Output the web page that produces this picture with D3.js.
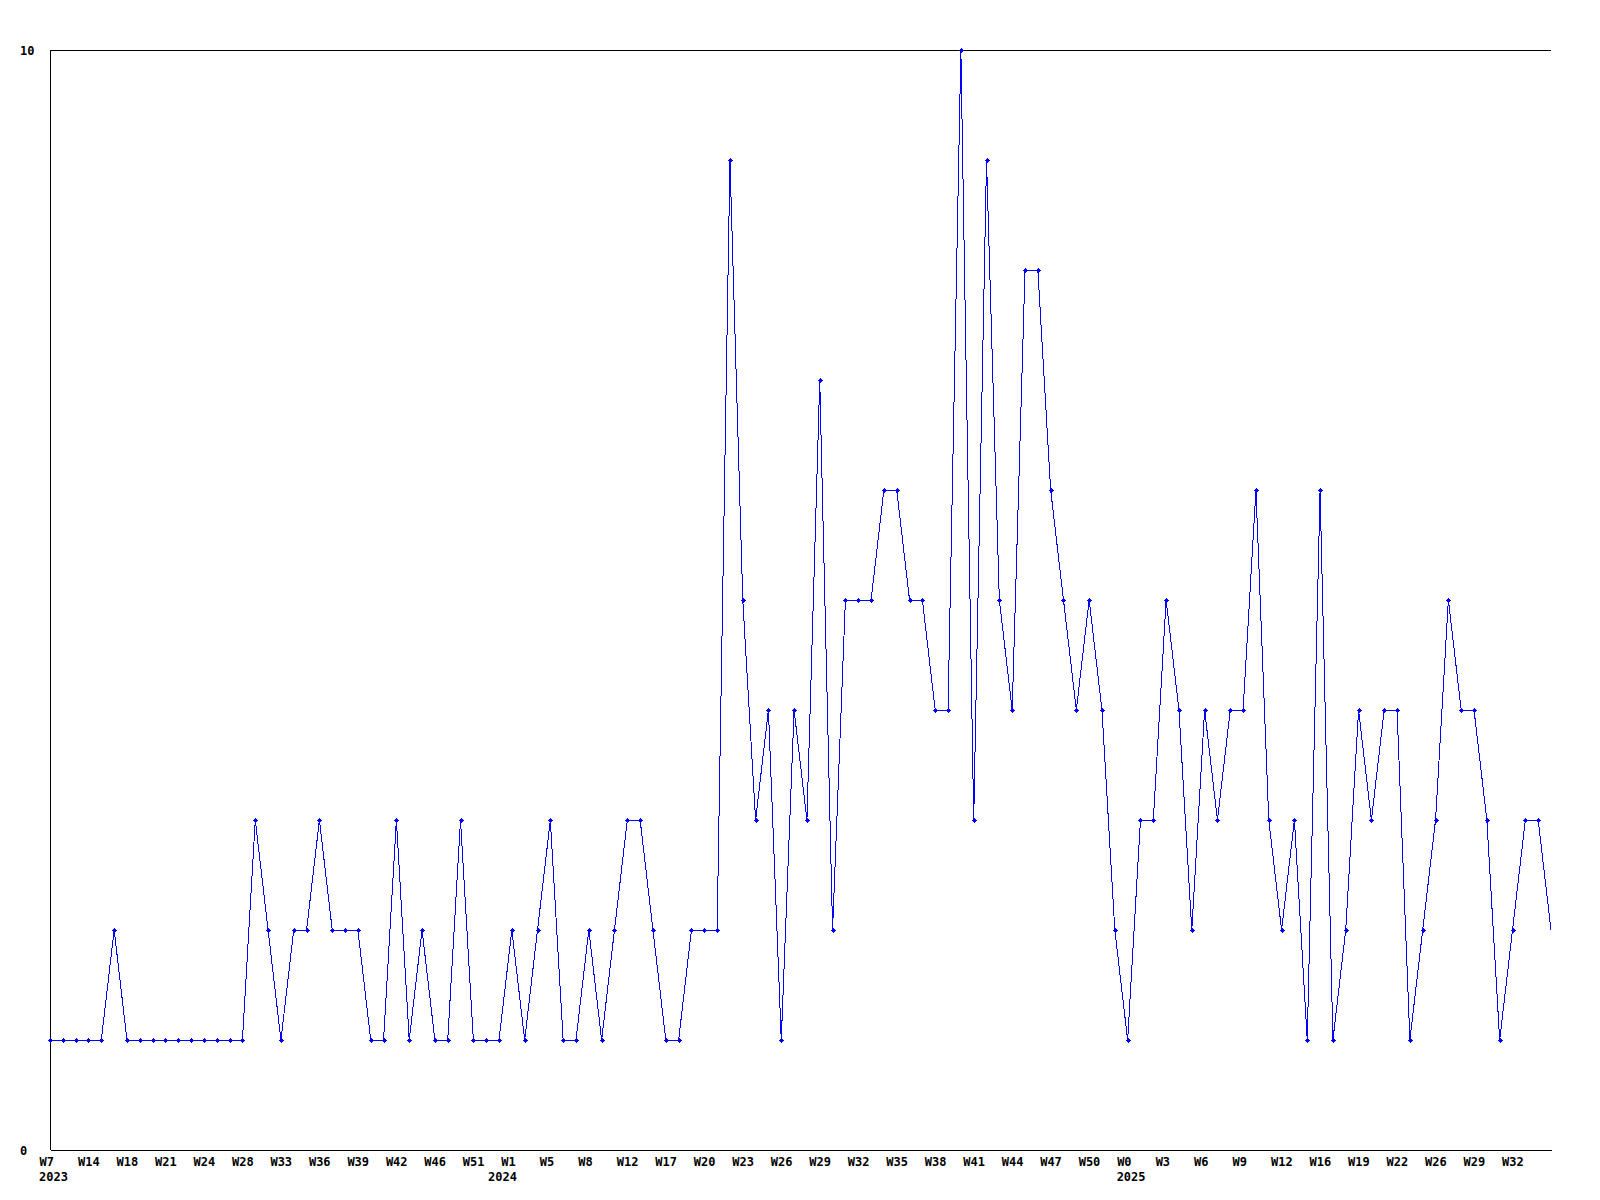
<!DOCTYPE html>
<html>
<head>
<meta charset="utf-8">
<script src="https://cdn.jsdelivr.net/npm/d3@7"></script>
<style>
  html, body { margin: 0; padding: 0; background: #ffffff; }
  svg { display: block; }
  text { font-family: "DejaVu Sans Mono", "Liberation Mono", monospace; font-weight: bold; font-size: 12px; fill: #000; }
</style>
</head>
<body>
<svg id="chart" width="1600" height="1200"></svg>
<script>
// ---- data ----
const values = [
  1,1,1,1,1,2,1,1,1,1,
  1,1,1,1,1,1,3,2,1,2,
  2,3,2,2,2,1,1,3,1,2,
  1,1,3,1,1,1,2,1,2,3,
  1,1,2,1,2,3,3,2,1,1,
  2,2,2,9,5,3,4,1,4,3,
  7,2,5,5,5,6,6,5,5,4,
  4,10,3,9,5,4,8,8,6,5,
  4,5,4,2,1,3,3,5,4,2,
  4,3,4,4,6,3,2,3,1,6,
  1,2,4,3,4,4,1,2,3,5,
  4,4,3,1,2,3,3,2
];
const weekTickLabels = [
  "W7","W14","W18","W21","W24","W28","W33","W36","W39","W42","W46","W51","W1",
  "W5","W8","W12","W17","W20","W23","W26","W29","W32","W35","W38","W41","W44","W47",
  "W50","W0","W3","W6","W9","W12","W16","W19","W22","W26","W29","W32"
];
const tickEvery = 3;
const yearLabels = ["2023","2024","2025"];
const yearIndex = [0, 35, 84];
const yTickValues = [0, 10];

// ---- layout ----
const mLeft = 50, mRight = 1551, mTop = 50, mBottom = 1150;

const svg = d3.select("#chart");

const x = d3.scaleLinear().domain([0, values.length - 1]).range([mLeft, mRight]);
const y = d3.scaleLinear().domain([0, 10]).range([mBottom, mTop]);

// frame lines (left, top)
svg.append("line").attr("x1", mLeft + 0.5).attr("x2", mLeft + 0.5).attr("y1", mTop).attr("y2", mBottom)
  .attr("stroke", "#000").attr("stroke-width", 1).attr("shape-rendering", "crispEdges");
svg.append("line").attr("x1", mLeft).attr("x2", mRight).attr("y1", mTop + 0.5).attr("y2", mTop + 0.5)
  .attr("stroke", "#000").attr("stroke-width", 1).attr("shape-rendering", "crispEdges");

// x axis
const xTickVals = weekTickLabels.map((d, i) => i * tickEvery);
const xAxis = d3.axisBottom(x)
  .tickValues(xTickVals)
  .tickSize(0)
  .tickPadding(0)
  .tickSizeOuter(0)
  .tickFormat((d, i) => weekTickLabels[i]);
const gx = svg.append("g").attr("transform", `translate(0,${mBottom})`).call(xAxis);
gx.select(".domain").attr("stroke", "#000").attr("shape-rendering", "crispEdges");
gx.selectAll(".tick text")
  .attr("text-anchor", "start")
  .attr("x", -11)
  .attr("y", 7)
  .attr("dy", "0.71em")
  .style("font-family", "DejaVu Sans Mono, monospace")
  .style("font-weight", "bold")
  .style("font-size", "12px")
  .attr("fill", "#000");

// year labels
svg.append("g").selectAll("text")
  .data(yearLabels)
  .join("text")
  .attr("x", (d, i) => x(yearIndex[i]) - 11)
  .attr("y", mBottom + 22)
  .attr("dy", "0.71em")
  .attr("text-anchor", "start")
  .text(d => d);

// y axis labels
const yAxis = d3.axisLeft(y).tickValues(yTickValues).tickSize(0).tickPadding(0).tickFormat(d3.format("d"));
const gy = svg.append("g").attr("transform", `translate(${mLeft},0)`).call(yAxis);
gy.select(".domain").remove();
gy.selectAll(".tick text")
  .attr("text-anchor", "start")
  .attr("x", 20 - mLeft)
  .attr("dy", "0.35em")
  .style("font-family", "DejaVu Sans Mono, monospace")
  .style("font-weight", "bold")
  .style("font-size", "12px")
  .attr("fill", "#000");

// clip for markers
svg.append("defs").append("clipPath").attr("id", "plotclip")
  .append("rect").attr("x", mLeft - 4).attr("y", mTop - 4).attr("width", mRight - mLeft).attr("height", mBottom - mTop + 8);

// line
const line = d3.line().x((d, i) => x(i)).y(d => y(d));
svg.append("path")
  .datum(values)
  .attr("d", line)
  .attr("fill", "none")
  .attr("stroke", "#0000ff")
  .attr("stroke-width", 1)
  .attr("shape-rendering", "crispEdges");

// markers (small crosses with a solid centre)
const markerPath = "M-2,0.5H3M0.5,-2V3";
const mg = svg.append("g").attr("clip-path", "url(#plotclip)");
mg.selectAll("g.m")
  .data(values)
  .join("g")
  .attr("class", "m")
  .attr("transform", (d, i) => `translate(${Math.round(x(i))},${Math.round(y(d))})`)
  .each(function() {
    const g = d3.select(this);
    g.append("path").attr("d", markerPath).attr("stroke", "#0000ff").attr("stroke-width", 1)
      .attr("fill", "none").attr("shape-rendering", "crispEdges");
    g.append("rect").attr("x", -1).attr("y", -1).attr("width", 3).attr("height", 3).attr("fill", "#0000ff")
      .attr("shape-rendering", "crispEdges");
  });
</script>
</body>
</html>
